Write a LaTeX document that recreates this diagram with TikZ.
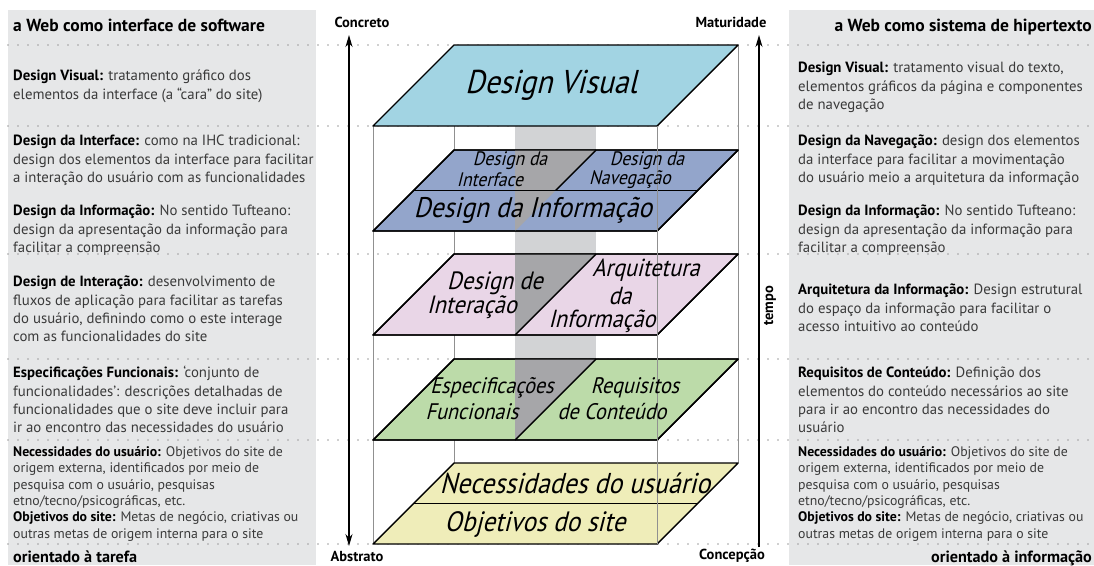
\documentclass[tikz,border=0pt]{standalone}
\usepackage{fontspec}
\setmainfont{PT Sans}
\newfontfamily\planefont[FakeSlant=0.25,FakeStretch=0.9]{PT Sans}
\usetikzlibrary{arrows.meta}
\definecolor{panel}{HTML}{E6E7E8}
\definecolor{dotc}{HTML}{A0A0A0}
\definecolor{vis}{HTML}{A2D4E3}
\definecolor{blu}{HTML}{93A5CB}
\definecolor{pnk}{HTML}{E9D6E7}
\definecolor{grn}{HTML}{BCDBA9}
\definecolor{ylw}{HTML}{EFEDB9}
\definecolor{band}{HTML}{D2D3D5}
\definecolor{bandd}{HTML}{A6A6A9}
\definecolor{vline}{HTML}{909090}
\definecolor{txt}{HTML}{3A3A3A}
\newcommand\bterm[1]{{\bfseries\color{black}#1}}
\newcommand\sst{\rule{0pt}{12pt}}
\begin{document}
\begin{tikzpicture}[x=1pt,y=-1pt,
  body/.style={anchor=north west, inner sep=0pt, align=left, text=txt, font=\fontsize{14.8}{18.3}\selectfont},
  smallbody/.style={anchor=north west, inner sep=0pt, align=left, text=txt, font=\fontsize{13.8}{16.4}\selectfont},
  head/.style={inner sep=0pt, text=black, font=\bfseries\fontsize{17.5}{20}\selectfont},
  foot/.style={inner sep=0pt, text=black, font=\bfseries\fontsize{16.2}{18}\selectfont},
  axlab/.style={inner sep=0pt, text=black, font=\bfseries\fontsize{14.5}{16}\selectfont},
  dotline/.style={draw=dotc, line width=1.8pt, line cap=round, dash pattern=on 0pt off 10pt},
  vl/.style={draw=vline, line width=0.9pt},
  planeedge/.style={draw=black, line width=1.4pt, line join=round},
  pt/.style={inner sep=0pt, text=black},
  axis/.style={draw=black, line width=1.2pt}
]
\useasboundingbox (0,0) rectangle (1094,565);
\fill[white] (0,0) rectangle (1094,565);
% side panels
\fill[panel] (8,10) rectangle (316,565);
\fill[panel] (789,10) rectangle (1094,565);
% dotted separators
\foreach \yy in {45,126,254,359,440,544}
  \draw[dotline] (8,\yy) -- (1094,\yy);
% back vertical edges
\draw[vl] (454,45) -- (454,463);
\draw[vl] (738,45) -- (738,463);
\draw[vl] (373,126) -- (373,544);
% band
\fill[band] (515,126) rectangle (596,440);
% planes
\filldraw[fill=vis, planeedge] (454,45) -- ++(284,0) -- ++(-81,81) -- ++(-284,0) -- cycle;
\filldraw[fill=blu, planeedge] (454,150) -- ++(284,0) -- ++(-81,81) -- ++(-284,0) -- cycle;
\filldraw[fill=pnk, planeedge] (454,254) -- ++(284,0) -- ++(-81,81) -- ++(-284,0) -- cycle;
\filldraw[fill=grn, planeedge] (454,359) -- ++(284,0) -- ++(-81,81) -- ++(-284,0) -- cycle;
\filldraw[fill=ylw, planeedge] (454,463) -- ++(284,0) -- ++(-81,81) -- ++(-284,0) -- cycle;
% dark band parts
\fill[bandd] (515,150) -- (596,150) -- (515,231) -- cycle;
\fill[bandd] (515,254) -- (596,254) -- (515,335) -- cycle;
\fill[bandd] (515,359) -- (596,359) -- (515,440) -- cycle;
% dividers and outlines again
\draw[planeedge] (454,150) -- ++(284,0) -- ++(-81,81) -- ++(-284,0) -- cycle;
\draw[planeedge] (454,254) -- ++(284,0) -- ++(-81,81) -- ++(-284,0) -- cycle;
\draw[planeedge] (454,359) -- ++(284,0) -- ++(-81,81) -- ++(-284,0) -- cycle;
\draw[planeedge] (413.5,190.5) -- (697.5,190.5);
\draw[planeedge] (596,150) -- (555.5,190.5);
\draw[planeedge] (596,254) -- (515,335);
\draw[planeedge] (596,359) -- (515,440);
\draw[planeedge] (413.5,503.5) -- (697.5,503.5);
% front vertical edge
\draw[vl] (657,126) -- (657,544);
% plane labels
\node[pt, font=\planefont\fontsize{33}{33}\selectfont] (tdv) at (551,85) {Design Visual};
\node[pt, font=\planefont\fontsize{19.5}{19.5}\selectfont] (tdi1) at (510,161) {Design da};
\node[pt, font=\planefont\fontsize{19.5}{19.5}\selectfont] (tdi2) at (490,180) {Interface};
\node[pt, font=\planefont\fontsize{19.5}{19.5}\selectfont] (tdn1) at (647,161) {Design da};
\node[pt, font=\planefont\fontsize{19.5}{19.5}\selectfont] (tdn2) at (630,180) {Navegação};
\node[pt, font=\planefont\fontsize{28.4}{28.4}\selectfont] (tdinf) at (533,210) {Design da Informação};
\node[pt, font=\planefont\fontsize{25}{25}\selectfont] (tin1) at (495,283) {Design de};
\node[pt, font=\planefont\fontsize{25}{25}\selectfont] (tin2) at (472,307) {Interação};
\node[pt, font=\planefont\fontsize{24.7}{24.7}\selectfont] (tai1) at (646,270) {Arquitetura};
\node[pt, font=\planefont\fontsize{24.7}{24.7}\selectfont] (tai2) at (620,296) {da};
\node[pt, font=\planefont\fontsize{24.7}{24.7}\selectfont] (tai3) at (602,321) {Informação};
\node[pt, font=\planefont\fontsize{22.5}{22.5}\selectfont] (tef1) at (492,388) {Especificações};
\node[pt, font=\planefont\fontsize{22.5}{22.5}\selectfont] (tef2) at (472,412) {Funcionais};
\node[pt, font=\planefont\fontsize{22.5}{22.5}\selectfont] (trc1) at (635,388) {Requisitos};
\node[pt, font=\planefont\fontsize{22.5}{22.5}\selectfont] (trc2) at (612,412) {de Conteúdo};
\node[pt, font=\planefont\fontsize{28.7}{28.7}\selectfont] (tnu) at (575,483) {Necessidades do usuário};
\node[pt, font=\planefont\fontsize{28}{28}\selectfont] (tos) at (535,524) {Objetivos do site};
% axes
\draw[axis, {Stealth[length=12pt,width=7pt]}-{Stealth[length=12pt,width=7pt]}] (349,35) -- (349,546);
\draw[axis, -{Stealth[length=12pt,width=7pt]}] (759,547) -- (759,35);
\node[axlab] (concreto) at (362,22) {Concreto};
\node[axlab] (abstrato) at (357,556) {Abstrato};
\node[axlab] (maturidade) at (731,22) {Maturidade};
\node[axlab] (concepcao) at (732,556) {Concepção};
\node[axlab, rotate=90] (tempo) at (770,306) {tempo};
% left panel
\node[head, anchor=base west] (lhead) at (13,31) {a Web como interface de software};
\node[body] (l1) at (13,68.5) {\sst\bterm{Design Visual:} tratamento gráfico dos\\elementos da interface (a “cara” do site)};
\node[body] (l2) at (13,133.5) {\sst\bterm{Design da Interface:} como na IHC tradicional:\\design dos elementos da interface para facilitar\\a interação do usuário com as funcionalidades};
\node[body] (l3) at (13,203.5) {\sst\bterm{Design da Informação:} No sentido Tufteano:\\design da apresentação da informação para\\facilitar a compreensão};
\node[body] (l4) at (13,274.5) {\sst\bterm{Design de Interação:} desenvolvimento de\\fluxos de aplicação para facilitar as tarefas\\do usuário, definindo como o este interage\\com as funcionalidades do site};
\node[body] (l5) at (13,365.5) {\sst\bterm{Especificações Funcionais:} ‘conjunto de\\funcionalidades’: descrições detalhadas de\\funcionalidades que o site deve incluir para\\ir ao encontro das necessidades do usuário};
\node[smallbody] (l6) at (13,444) {\sst\bterm{Necessidades do usuário:} Objetivos do site de\\origem externa, identificados por meio de\\pesquisa com o usuário, pesquisas\\etno/tecno/psicográficas, etc.\\\bterm{Objetivos do site:} Metas de negócio, criativas ou\\outras metas de origem interna para o site};
\node[foot, anchor=base west] (lfoot) at (13,562) {orientado à tarefa};
% right panel
\node[head, anchor=base east] (rhead) at (1092,31) {a Web como sistema de hipertexto};
\node[body] (r1) at (798,60.5) {\sst\bterm{Design Visual:} tratamento visual do texto,\\elementos gráficos da página e componentes\\de navegação};
\node[body] (r2) at (798,133.5) {\sst\bterm{Design da Navegação:} design dos elementos\\da interface para facilitar a movimentação\\do usuário meio a arquitetura da informação};
\node[body] (r3) at (798,203.5) {\sst\bterm{Design da Informação:} No sentido Tufteano:\\design da apresentação da informação para\\facilitar a compreensão};
\node[body] (r4) at (798,282.5) {\sst\bterm{Arquitetura da Informação:} Design estrutural\\do espaço da informação para facilitar o\\acesso intuitivo ao conteúdo};
\node[body] (r5) at (798,365.5) {\sst\bterm{Requisitos de Conteúdo:} Definição dos\\elementos do conteúdo necessários ao site\\para ir ao encontro das necessidades do\\usuário};
\node[smallbody] (r6) at (798,444) {\sst\bterm{Necessidades do usuário:} Objetivos do site de\\origem externa, identificados por meio de\\pesquisa com o usuário, pesquisas\\etno/tecno/psicográficas, etc.\\\bterm{Objetivos do site:} Metas de negócio, criativas ou\\outras metas de origem interna para o site};
\node[foot, anchor=base east] (rfoot) at (1092,562) {orientado à informação};
\end{tikzpicture}
\end{document}
